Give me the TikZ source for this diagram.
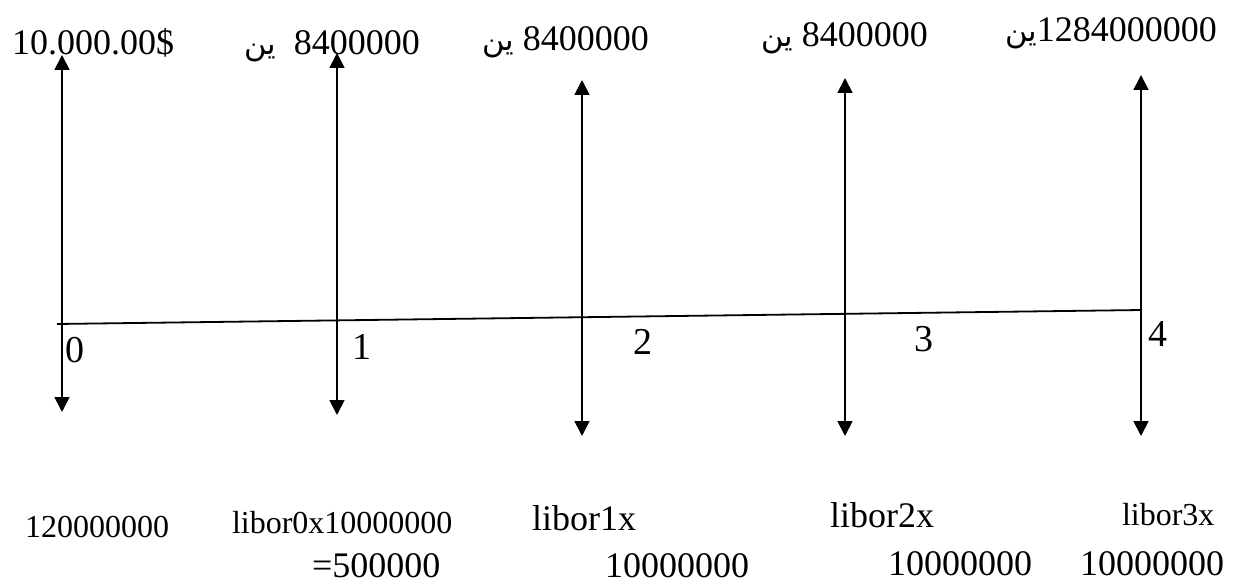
\documentclass[tikz,border=0pt]{standalone}
\usepackage{fontspec}
\setmainfont{Liberation Serif}
\newfontfamily\arabicfont[Script=Arabic,Scale=0.85]{DejaVu Sans}
\TeXXeTstate=1
\usetikzlibrary{arrows.meta}
\newcommand{\yen}{{\arabicfont\beginR ين\endR}}
\tikzset{
  lbl/.style={inner sep=0pt, outer sep=0pt, anchor=base west, font=\fontsize{36bp}{40bp}\selectfont},
  lblsmall/.style={lbl, font=\fontsize{32bp}{36bp}\selectfont},
  numlbl/.style={inner sep=0pt, outer sep=0pt, anchor=base, font=\fontsize{38bp}{42bp}\selectfont},
  flow/.style={line width=1.8bp, {Triangle[length=15bp,width=15bp]}-{Triangle[length=15bp,width=15bp]}},
  axis/.style={line width=1.8bp}
}
\begin{document}
\begin{tikzpicture}[x=1bp,y=-1bp]
\useasboundingbox (0,0) rectangle (1234,585);
% axis
\coordinate (axL) at (57,324);
\coordinate (axR) at (1142,310);
\draw[axis] (axL) -- (axR);
% flows
\coordinate (top0) at (62,55);   \coordinate (bot0) at (62,412);
\coordinate (top1) at (337,53);  \coordinate (bot1) at (337,415);
\coordinate (top2) at (582,80);  \coordinate (bot2) at (582,436);
\coordinate (top3) at (845,78);  \coordinate (bot3) at (845,436);
\coordinate (top4) at (1141,75); \coordinate (bot4) at (1141,436);
\draw[flow] (top0) -- (bot0);
\draw[flow] (top1) -- (bot1);
\draw[flow] (top2) -- (bot2);
\draw[flow] (top3) -- (bot3);
\draw[flow] (top4) -- (bot4);
% period numbers
\node[numlbl] (n0) at (75,363) {0};
\node[numlbl] (n1) at (362,360) {1};
\node[numlbl] (n2) at (643,355) {2};
\node[numlbl] (n3) at (924,352) {3};
\node[numlbl] (n4) at (1158,347) {4};
% top labels
\node[lbl] (t0) at (12,55) {10.000.00\$};
\node[lbl] (t1) at (244,55) {\yen\ \ 8400000};
\node[lbl] (t2) at (482,51) {\yen\ 8400000};
\node[lbl] (t3) at (761,47) {\yen\ 8400000};
\node[lbl] (t4) at (1005,42) {\yen1284000000};
% bottom labels
\node[lblsmall] (b0) at (25,537) {120000000};
\node[lblsmall] (b1a) at (232,533) {libor0x10000000};
\node[lbl] (b1b) at (312,577) {=500000};
\node[lbl] (b2a) at (532,530) {libor1x};
\node[lbl] (b2b) at (605,577) {10000000};
\node[lbl] (b3a) at (830,527) {libor2x};
\node[lbl] (b3b) at (888,575) {10000000};
\node[lblsmall] (b4a) at (1122,525) {libor3x};
\node[lbl] (b4b) at (1080,575) {10000000};
\end{tikzpicture}
\end{document}
